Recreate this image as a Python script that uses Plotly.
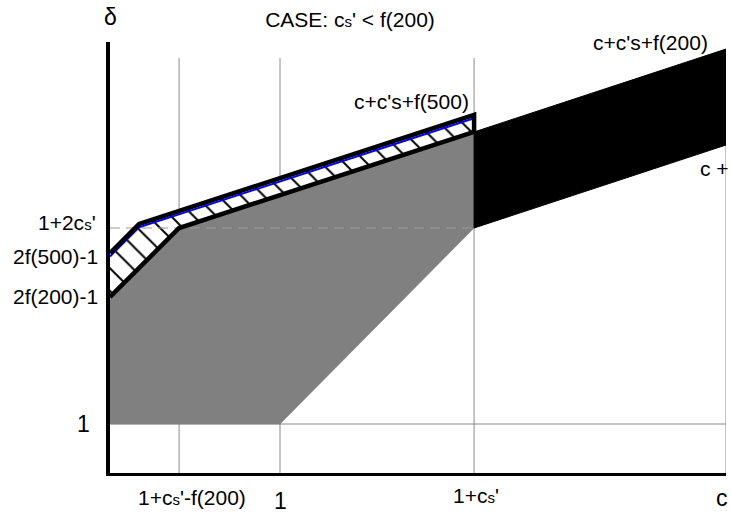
import plotly.graph_objects as go

cs = 0.5                    # c_s'
f200 = 0.76                 # f(200)
c_val = 2.149               # c (right end)
x_left = 0.562              # left edge of drawing
x_upper_knee = 0.637        # knee of the upper bound
x_tick_vals = [1 + cs - f200, 1.0, 1 + cs, c_val]
x_tick_text = ["1+c<span style='font-size:15px'>s</span>'-f(200)", "1",
               "1+c<span style='font-size:15px'>s</span>'", "c"]

y_bottom = 0.75
y_top = 2.949
y_grid_top = 2.867
y_one = 1.0
y_2f200 = 1.648             # 2f(200)-1
y_2f500 = 1.872             # 2f(500)-1
y_12cs = 2.0                # 1+2cs'
y_upper_knee = 2.02
y_lower_end = 2.49          # lower bound at 1+cs'
y_upper_end = 2.577         # upper bound at 1+cs'
y_black_top = 2.913         # c+c's+f(200) at c
y_black_bot = 2.4235        # lower edge at c
y_tick_vals = [y_12cs, y_2f500, y_2f200, y_one]
y_tick_text = ["1+2c<span style='font-size:15px'>s</span>'", "2f(500)-1", "2f(200)-1", "1"]

blue_offset = 0.017

FONT = "Liberation Sans, Arial, Helvetica, sans-serif"
a, b = x_tick_vals[0], x_tick_vals[2]

fig = go.Figure()

# gray reference lines
for xv in x_tick_vals:
    fig.add_trace(go.Scatter(x=[xv, xv], y=[y_bottom, y_grid_top], mode="lines",
                             line=dict(color="#8a8a8a", width=1), hoverinfo="skip"))
fig.add_trace(go.Scatter(x=[x_left, c_val], y=[y_one, y_one], mode="lines",
                         line=dict(color="#8a8a8a", width=1), hoverinfo="skip"))

# gray feasible region
fig.add_trace(go.Scatter(
    x=[x_left, 1.0, b, b, a, x_left, x_left],
    y=[y_one, y_one, y_12cs, y_lower_end, y_12cs, y_2f200, y_one],
    fill="toself", fillcolor="#808080", mode="lines",
    line=dict(color="#808080", width=0.5), hoverinfo="skip"))

# hatched strip
fig.add_trace(go.Scatter(
    x=[x_left, x_upper_knee, b, b, a, x_left, x_left],
    y=[y_2f500, y_upper_knee, y_upper_end, y_lower_end, y_12cs, y_2f200, y_2f500],
    fill="toself", fillcolor="white", mode="lines", line=dict(width=0),
    fillpattern=dict(shape="\\", fgcolor="black", bgcolor="white", size=16,
                     solidity=0.12, fgopacity=1),
    hoverinfo="skip"))

# black region
fig.add_trace(go.Scatter(
    x=[b, c_val, c_val, b, b],
    y=[y_lower_end, y_black_top, y_black_bot, y_12cs, y_lower_end],
    fill="toself", fillcolor="black", mode="lines",
    line=dict(color="black", width=1), hoverinfo="skip"))

# dashed 1+2cs' line
fig.add_trace(go.Scatter(x=[x_left, b], y=[y_12cs, y_12cs], mode="lines",
                         line=dict(color="#9a9a9a", width=1, dash="10px,6px"), hoverinfo="skip"))

# blue line just under upper bound
fig.add_trace(go.Scatter(
    x=[x_left, x_upper_knee, b],
    y=[y_2f500 - blue_offset, y_upper_knee - blue_offset, y_upper_end - blue_offset],
    mode="lines", line=dict(color="blue", width=2), hoverinfo="skip"))

# thick black bounds
fig.add_trace(go.Scatter(x=[x_left, a, b], y=[y_2f200, y_12cs, y_lower_end], mode="lines",
                         line=dict(color="black", width=4.5), hoverinfo="skip"))
fig.add_trace(go.Scatter(x=[x_left, x_upper_knee, b, b],
                         y=[y_2f500, y_upper_knee, y_upper_end, y_lower_end], mode="lines",
                         line=dict(color="black", width=4.5), hoverinfo="skip"))

ann = []
# x labels
x_shifts = [13, 0, 2, -4]
x_sizes = [21, 23, 21, 23]
x_ys = [-0.058, -0.066, -0.052, -0.058]
for xv, t, sh, sz, yy in zip(x_tick_vals, x_tick_text, x_shifts, x_sizes, x_ys):
    ann.append(dict(x=xv, y=yy, xref="x", yref="paper", text=t, showarrow=False,
                    xanchor="center", yanchor="middle", xshift=sh,
                    font=dict(size=sz, color="black", family=FONT)))
# y labels
y_sizes = [21, 21, 21, 23]
y_xs = [-0.02, -0.016, -0.016, -0.03]
y_shift = [6, -3, 0, 0]
for yv, t, sz, xx, ys in zip(y_tick_vals, y_tick_text, y_sizes, y_xs, y_shift):
    ann.append(dict(x=xx, y=yv, xref="paper", yref="y", text=t, showarrow=False,
                    xanchor="right", yanchor="middle", yshift=ys,
                    font=dict(size=sz, color="black", family=FONT)))
# curve labels
ann.append(dict(x=1.34, y=2.648, xref="x", yref="y", text="c+c's+f(500)", showarrow=False,
                xanchor="center", yanchor="middle", font=dict(size=21, color="black", family=FONT)))
ann.append(dict(x=1.955, y=2.944, xref="x", yref="y", text="c+c's+f(200)", showarrow=False,
                xanchor="center", yanchor="middle", font=dict(size=21, color="black", family=FONT)))
ann.append(dict(x=2.077, y=2.306, xref="x", yref="y", text="c +", showarrow=False,
                xanchor="left", yanchor="middle", font=dict(size=21, color="black", family=FONT)))
# delta
ann.append(dict(x=0, y=1.058, xref="paper", yref="paper", text="δ", showarrow=False,
                xanchor="center", yanchor="middle", font=dict(size=23, color="black", family=FONT)))

fig.update_layout(
    width=730, height=517,
    margin=dict(l=110, r=4, t=42, b=44),
    paper_bgcolor="white", plot_bgcolor="white",
    showlegend=False,
    title=dict(text="CASE: c<span style='font-size:15px'>s</span>' < f(200)",
               x=350 / 730, xanchor="center", y=1 - 20 / 517, yanchor="middle",
               font=dict(size=21, color="black", family=FONT)),
    annotations=ann,
    xaxis=dict(range=[x_left, c_val], showgrid=False, zeroline=False, showticklabels=False,
               ticks="", showline=True, linecolor="black", linewidth=3, fixedrange=True),
    yaxis=dict(range=[y_bottom, y_top], showgrid=False, zeroline=False, showticklabels=False,
               ticks="", showline=True, linecolor="black", linewidth=4, fixedrange=True),
)

fig.write_html("out.html", config={"displayModeBar": False},
               post_script="document.body.style.margin='0px';document.body.style.overflow='hidden';")
